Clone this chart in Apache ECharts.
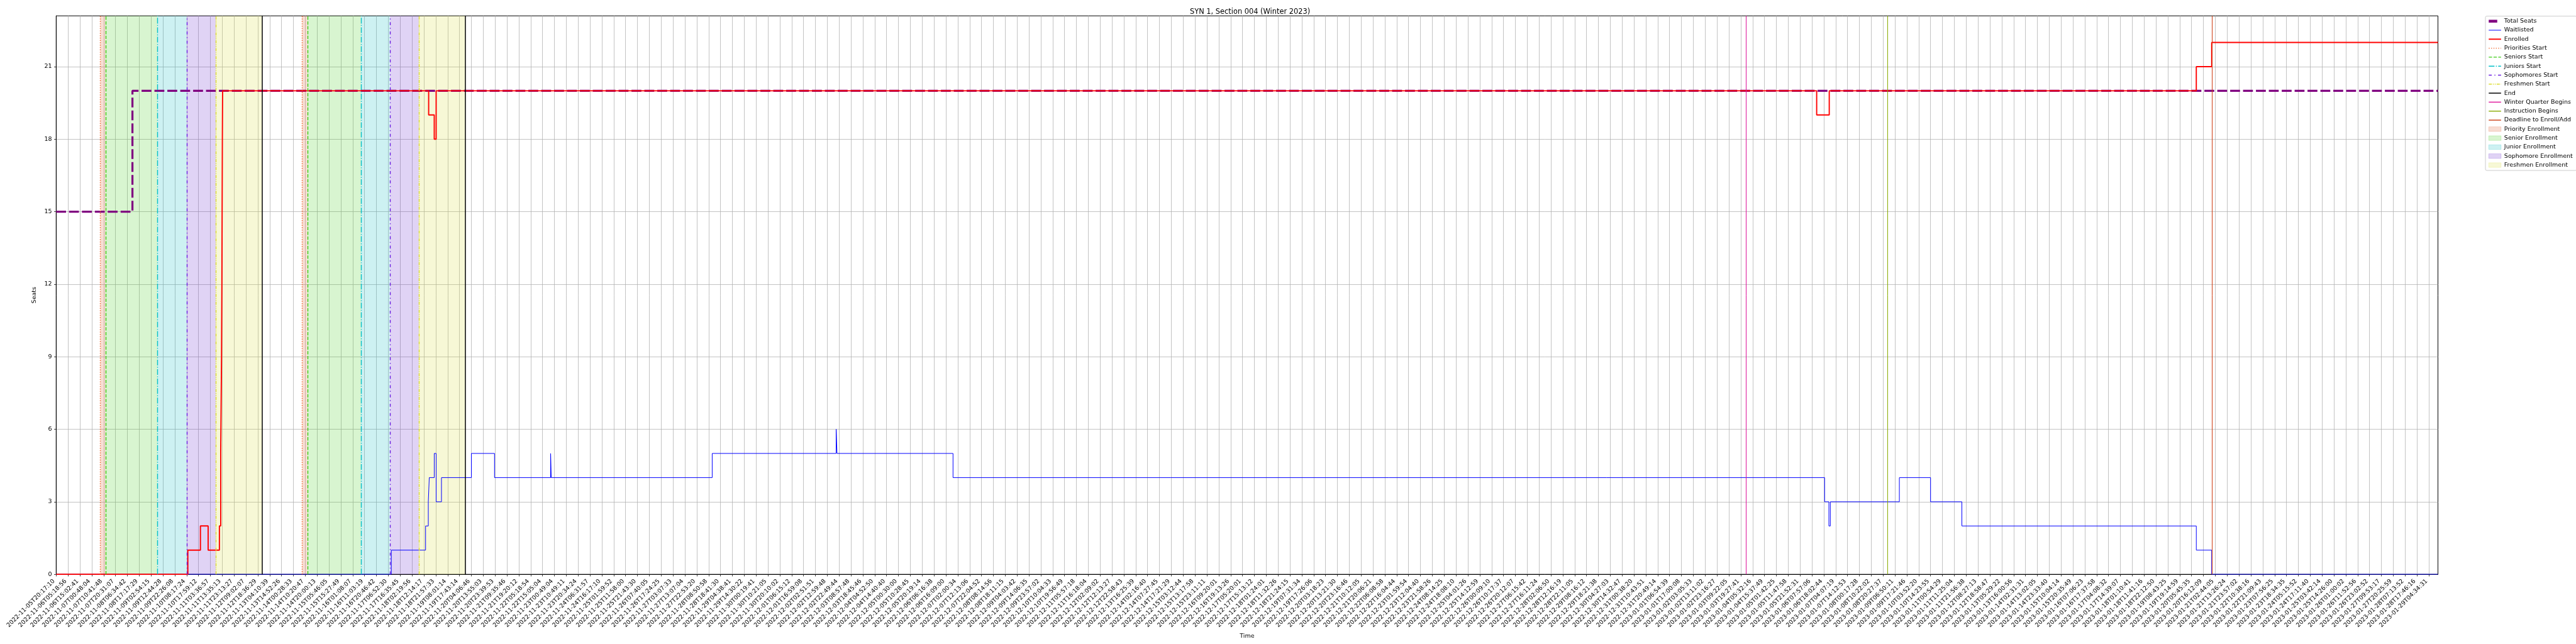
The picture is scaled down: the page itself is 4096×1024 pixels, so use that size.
<!DOCTYPE html>
<html><head><meta charset="utf-8">
<script src="https://cdn.jsdelivr.net/npm/echarts@6/dist/echarts.min.js"></script>
<style>html,body{margin:0;padding:0;background:#fff}#c{width:4096px;height:1024px}</style>
</head><body><div id="c"></div>
<script>
// ---------------- data ----------------
const xTickLabels = [
'2022-11-05T20:17:10','2022-11-06T05:18:56','2022-11-06T15:02:41','2022-11-07T00:48:04','2022-11-07T10:41:48',
'2022-11-07T20:31:07','2022-11-08T06:34:42','2022-11-08T17:17:29','2022-11-09T02:54:15','2022-11-09T12:44:28',
'2022-11-09T22:26:08','2022-11-10T08:17:24','2022-11-10T17:59:12','2022-11-11T03:36:57','2022-11-11T13:35:13',
'2022-11-11T23:13:27','2022-11-12T09:02:07','2022-11-12T18:36:29','2022-11-13T04:10:39','2022-11-13T14:52:26',
'2022-11-14T00:28:33','2022-11-14T10:20:47','2022-11-14T20:00:13','2022-11-15T05:46:05','2022-11-15T15:27:49',
'2022-11-16T01:08:07','2022-11-16T11:03:19','2022-11-16T20:46:42','2022-11-17T06:52:30','2022-11-17T16:35:45',
'2022-11-18T02:19:56','2022-11-18T12:14:17','2022-11-18T21:57:33','2022-11-19T08:01:14','2022-11-19T17:43:14',
'2022-11-20T04:06:46','2022-11-20T13:55:03','2022-11-20T23:39:53','2022-11-21T09:35:46','2022-11-21T19:20:12',
'2022-11-22T05:18:54','2022-11-22T15:05:04','2022-11-23T00:49:04','2022-11-23T10:49:11','2022-11-23T20:34:24',
'2022-11-24T06:31:57','2022-11-24T16:17:10','2022-11-25T01:59:52','2022-11-25T11:58:00','2022-11-25T21:43:30',
'2022-11-26T07:40:05','2022-11-26T17:24:25','2022-11-27T03:07:33','2022-11-27T13:07:04','2022-11-27T22:53:20',
'2022-11-28T08:50:58','2022-11-28T18:41:30','2022-11-29T04:38:41','2022-11-29T14:30:22','2022-11-30T00:19:41',
'2022-11-30T10:21:05','2022-11-30T20:10:02','2022-12-01T06:15:12','2022-12-01T16:59:08','2022-12-02T02:51:51',
'2022-12-02T12:59:48','2022-12-02T22:49:44','2022-12-03T08:57:48','2022-12-03T18:45:46','2022-12-04T04:52:50',
'2022-12-04T14:40:40','2022-12-05T00:30:00','2022-12-05T10:28:45','2022-12-05T20:19:14','2022-12-06T06:16:38',
'2022-12-06T16:09:00','2022-12-07T02:00:34','2022-12-07T12:13:06','2022-12-07T22:04:52','2022-12-08T08:14:56',
'2022-12-08T18:11:15','2022-12-09T04:03:42','2022-12-09T14:06:35','2022-12-09T23:57:02','2022-12-10T10:04:33',
'2022-12-10T19:56:49','2022-12-11T05:57:18','2022-12-11T16:18:04','2022-12-12T02:09:02','2022-12-12T12:13:27',
'2022-12-12T22:58:43','2022-12-13T16:25:39','2022-12-14T02:16:40','2022-12-14T07:27:45','2022-12-14T17:21:29',
'2022-12-15T03:12:44','2022-12-15T13:17:58','2022-12-15T23:11:11','2022-12-16T09:20:01','2022-12-16T19:13:26',
'2022-12-17T05:20:01','2022-12-17T15:13:12','2022-12-18T01:24:01','2022-12-18T11:32:26','2022-12-18T21:24:15',
'2022-12-19T07:31:34','2022-12-19T17:26:06','2022-12-20T03:18:23','2022-12-20T13:21:30','2022-12-20T23:16:46',
'2022-12-21T10:12:05','2022-12-21T20:06:21','2022-12-22T06:08:58','2022-12-22T16:04:44','2022-12-23T01:59:54',
'2022-12-23T12:04:40','2022-12-23T21:58:26','2022-12-24T08:14:25','2022-12-24T18:08:10','2022-12-25T04:01:26',
'2022-12-25T14:12:59','2022-12-26T00:09:10','2022-12-26T10:17:37','2022-12-26T20:12:07','2022-12-27T06:15:42',
'2022-12-27T16:11:24','2022-12-28T02:06:50','2022-12-28T12:16:19','2022-12-28T22:11:05','2022-12-29T08:16:12',
'2022-12-29T18:21:38','2022-12-30T04:27:03','2022-12-30T14:32:47','2022-12-31T00:38:20','2022-12-31T10:43:51',
'2022-12-31T20:49:14','2023-01-01T06:54:39','2023-01-01T17:00:08','2023-01-02T03:05:33','2023-01-02T13:11:02',
'2023-01-02T23:16:27','2023-01-03T09:22:05','2023-01-03T19:27:41','2023-01-04T05:32:16','2023-01-04T15:37:49',
'2023-01-05T01:42:25','2023-01-05T11:47:58','2023-01-05T21:52:31','2023-01-06T07:57:06','2023-01-06T18:02:44',
'2023-01-07T04:07:19','2023-01-07T14:12:53','2023-01-08T00:17:28','2023-01-08T10:22:02','2023-01-08T20:27:37',
'2023-01-09T06:50:11','2023-01-09T17:21:46','2023-01-10T03:52:20','2023-01-10T14:23:55','2023-01-11T00:54:29',
'2023-01-11T11:25:04','2023-01-11T21:56:38','2023-01-12T08:27:13','2023-01-12T18:58:47','2023-01-13T05:29:22',
'2023-01-13T16:00:56','2023-01-14T02:31:31','2023-01-14T13:02:05','2023-01-14T23:33:40','2023-01-15T10:04:14',
'2023-01-15T20:35:49','2023-01-16T07:06:23','2023-01-16T17:37:58','2023-01-17T04:08:32','2023-01-17T14:39:07',
'2023-01-18T01:10:41','2023-01-18T11:41:16','2023-01-18T22:12:50','2023-01-19T08:43:25','2023-01-19T19:14:59',
'2023-01-20T05:45:35','2023-01-20T16:12:09','2023-01-21T02:44:05','2023-01-21T13:26:24','2023-01-21T23:57:02',
'2023-01-22T10:38:16','2023-01-22T21:09:43','2023-01-23T07:56:25','2023-01-23T18:34:35','2023-01-24T05:15:52',
'2023-01-24T17:11:40','2023-01-25T03:42:14','2023-01-25T14:26:00','2023-01-26T01:00:02','2023-01-26T11:52:56',
'2023-01-26T23:02:52','2023-01-27T09:53:17','2023-01-27T20:25:59','2023-01-28T07:13:52','2023-01-28T17:46:16',
'2023-01-29T04:34:31'
];
const yTickValues = [0, 3, 6, 9, 12, 15, 18, 21];
const xMax = 200.77;
const yMax = 23.1;

// x positions are in tick-index units (tick k sits at label xTickLabels[k])
const totalSeatsX = [0, 6.43, 200.77];
const totalSeatsY = [15, 20, 20];

const enrolledX = [0, 11.1, 12.16, 12.81, 13.76, 13.87, 13.94, 13.97, 13.99, 14.01, 14.03, 31.40, 31.87, 32.03, 148.4, 149.46, 180.4, 181.7, 200.77];
const enrolledY = [0, 1, 2, 1, 2, 5, 9, 12, 15, 18, 20, 19, 18, 20, 19, 20, 21, 22, 22];

const waitlistX = [0, 28.25, 31.14, 31.37, 31.45, 31.87, 32.03, 32.48, 35.0, 36.95, 41.68, 41.73, 55.3, 65.75, 65.82, 75.6, 149.07, 149.43, 149.55, 155.37, 158.0, 160.64, 180.4, 181.7, 200.77];
const waitlistY = [0, 1, 2, 3, 4, 5, 3, 4, 5, 4, 5, 4, 5, 6, 5, 4, 3, 2, 3, 4, 3, 2, 1, 0, 0];

const periodEventNames = ['Priorities Start', 'Seniors Start', 'Juniors Start', 'Sophomores Start', 'Freshmen Start', 'End'];
const period1EventX = [3.72, 4.16, 8.53, 11.0, 13.45, 17.34];
const period2EventX = [20.73, 21.19, 25.69, 28.14, 30.57, 34.47];

const quarterEventNames = ['Winter Quarter Begins', 'Instruction Begins', 'Deadline to Enroll/Add'];
const quarterEventX = [142.45, 154.35, 181.72];

const spanNames = ['Priority Enrollment', 'Senior Enrollment', 'Junior Enrollment', 'Sophomore Enrollment', 'Freshmen Enrollment'];

const chartTitle = 'SYN 1, Section 004 (Winter 2023)';

// ---------------- styles ----------------
const FONT = 'DejaVu Sans';
const periodEventStyles = [
  {color: '#f0642a', width: 1.4, type: [1.42, 2.35]},
  {color: '#3ccc14', width: 1.4, type: [5.3, 2.3]},
  {color: '#05c0c8', width: 1.4, type: [9.1, 2.3, 1.4, 2.3]},
  {color: '#6a1ee0', width: 1.4, type: [4.8, 4.3, 1.4, 4.3]},
  {color: '#dcdc30', width: 1.4, type: [5.0, 1.6, 1.4, 1.6, 1.4, 1.6]},
  {color: '#000000', width: 1.5, type: 'solid'}
];
const quarterEventStyles = [
  {color: '#dd1199', width: 1.0, type: 'solid'},
  {color: '#88aa00', width: 1.0, type: 'solid'},
  {color: '#cc3a10', width: 1.0, type: 'solid'}
];
const spanColors = ['rgba(220,85,35,0.2)', 'rgba(60,205,20,0.2)', 'rgba(5,185,190,0.2)', 'rgba(100,35,205,0.2)', 'rgba(215,220,50,0.2)'];

function zip(xs, ys) { return xs.map((x, i) => [x, ys[i]]); }

const series = [];
const legendData = [];

series.push({
  name: 'Total Seats', type: 'line', step: 'end', symbol: 'none', z: 2,
  data: zip(totalSeatsX, totalSeatsY),
  lineStyle: {color: '#800080', width: 3.2, type: [15.7, 4.8]},
  itemStyle: {color: '#800080'}
});
legendData.push({name: 'Total Seats', itemStyle: {opacity: 0}, lineStyle: {color: '#800080', width: 4.5, type: [13.5, 10]}});

series.push({
  name: 'Waitlisted', type: 'line', step: 'end', symbol: 'none', z: 3,
  data: zip(waitlistX, waitlistY),
  lineStyle: {color: '#0000ff', width: 1.0},
  itemStyle: {color: '#0000ff'}
});
legendData.push({name: 'Waitlisted', itemStyle: {opacity: 0}, lineStyle: {color: '#0000ff', width: 1.0, type: 'solid'}});

series.push({
  name: 'Enrolled', type: 'line', step: 'end', symbol: 'none', z: 4,
  data: zip(enrolledX, enrolledY),
  lineStyle: {color: '#ff0000', width: 1.9},
  itemStyle: {color: '#ff0000'}
});
legendData.push({name: 'Enrolled', itemStyle: {opacity: 0}, lineStyle: {color: '#ff0000', width: 1.9, type: 'solid'}});

periodEventNames.forEach((nm, i) => {
  const st = periodEventStyles[i];
  series.push({
    name: nm, type: 'line', symbol: 'none', data: [], z: 5,
    lineStyle: {color: st.color, width: st.width, type: st.type},
    itemStyle: {color: st.color},
    markLine: {
      silent: true, symbol: ['none', 'none'], label: {show: false}, z: 5,
      lineStyle: {color: st.color, width: st.width, type: st.type, opacity: 1},
      emphasis: {disabled: true},
      data: [{xAxis: period1EventX[i]}, {xAxis: period2EventX[i]}]
    }
  });
  legendData.push({name: nm, itemStyle: {opacity: 0}, lineStyle: {color: st.color, width: st.width, type: st.type}});
});

quarterEventNames.forEach((nm, i) => {
  const st = quarterEventStyles[i];
  series.push({
    name: nm, type: 'line', symbol: 'none', data: [], z: 5,
    lineStyle: {color: st.color, width: st.width, type: st.type},
    itemStyle: {color: st.color},
    markLine: {
      silent: true, symbol: ['none', 'none'], label: {show: false}, z: 5,
      lineStyle: {color: st.color, width: st.width, type: st.type, opacity: 1},
      emphasis: {disabled: true},
      data: [{xAxis: quarterEventX[i]}]
    }
  });
  legendData.push({name: nm, itemStyle: {opacity: 0}, lineStyle: {color: st.color, width: 1.4, type: 'solid'}});
});

spanNames.forEach((nm, i) => {
  series.push({
    name: nm, type: 'line', symbol: 'none', data: [], z: 1,
    itemStyle: {color: spanColors[i]},
    lineStyle: {color: spanColors[i]},
    markArea: {
      silent: true, z: 1,
      itemStyle: {color: spanColors[i], borderWidth: 0},
      emphasis: {disabled: true},
      data: [
        [{xAxis: period1EventX[i]}, {xAxis: period1EventX[i + 1]}],
        [{xAxis: period2EventX[i]}, {xAxis: period2EventX[i + 1]}]
      ]
    }
  });
  legendData.push({name: nm, icon: 'rect', itemStyle: {color: spanColors[i], borderColor: spanColors[i], borderWidth: 1, opacity: 1}});
});

const xTickValues = xTickLabels.map((_, i) => i);

const option = {
  animation: false,
  backgroundColor: '#ffffff',
  textStyle: {fontFamily: FONT},
  title: {
    text: chartTitle, left: 1887, top: 9,
    textStyle: {fontFamily: FONT, fontSize: 11.4, fontWeight: 'normal', color: '#000'}
  },
  legend: {
    orient: 'vertical', left: 3952, top: 25.7,
    data: legendData,
    itemWidth: 19.6, itemHeight: 7.3, itemGap: 3.3,
    padding: [2.5, 6, 3, 3],
    borderColor: '#cccccc', borderWidth: 1, borderRadius: 2,
    backgroundColor: 'rgba(255,255,255,0.8)',
    textStyle: {fontFamily: FONT, fontSize: 9.5, color: '#000', lineHeight: 11},
    selectedMode: false
  },
  grid: {
    left: 89.3, top: 25.2, width: 3787.2, height: 888,
    show: true, borderColor: '#000', borderWidth: 1, backgroundColor: 'transparent',
    containLabel: false
  },
  xAxis: {
    type: 'value', min: 0, max: xMax, interval: 1,
    name: 'Time', nameLocation: 'middle', nameGap: 89.5,
    nameTextStyle: {fontFamily: FONT, fontSize: 9.5, color: '#000'},
    axisLine: {show: true, onZero: false, lineStyle: {color: '#000', width: 1}},
    axisTick: {show: true, length: 3.3, lineStyle: {color: '#000', width: 0.76}, customValues: xTickValues},
    axisLabel: {
      show: true, rotate: 45, margin: 13, fontFamily: FONT, fontSize: 9.5, color: '#000',
      align: 'right', verticalAlign: 'bottom',
      showMinLabel: true, showMaxLabel: true, hideOverlap: false,
      customValues: xTickValues,
      formatter: function (v) {
        const i = Math.round(v);
        return (Math.abs(v - i) < 1e-6 && xTickLabels[i] !== undefined) ? xTickLabels[i] : '';
      }
    },
    splitLine: {show: true, lineStyle: {color: '#b0b0b0', width: 0.76}}
  },
  yAxis: {
    type: 'value', min: 0, max: yMax, interval: 3,
    name: 'Seats', nameLocation: 'middle', nameGap: 22.5,
    nameTextStyle: {fontFamily: FONT, fontSize: 9.5, color: '#000'},
    axisLine: {show: true, onZero: false, lineStyle: {color: '#000', width: 1}},
    axisTick: {show: true, length: 3.3, lineStyle: {color: '#000', width: 0.76}, customValues: yTickValues},
    axisLabel: {
      show: true, margin: 6.7, fontFamily: FONT, fontSize: 9.5, color: '#000',
      customValues: yTickValues,
      formatter: function (v) { return yTickValues.indexOf(v) >= 0 ? String(v) : ''; }
    },
    splitLine: {show: true, lineStyle: {color: '#b0b0b0', width: 0.76}}
  },
  series: series
};

const chart = echarts.init(document.getElementById('c'), null, {renderer: 'canvas'});
chart.setOption(option);
</script>
</body></html>
